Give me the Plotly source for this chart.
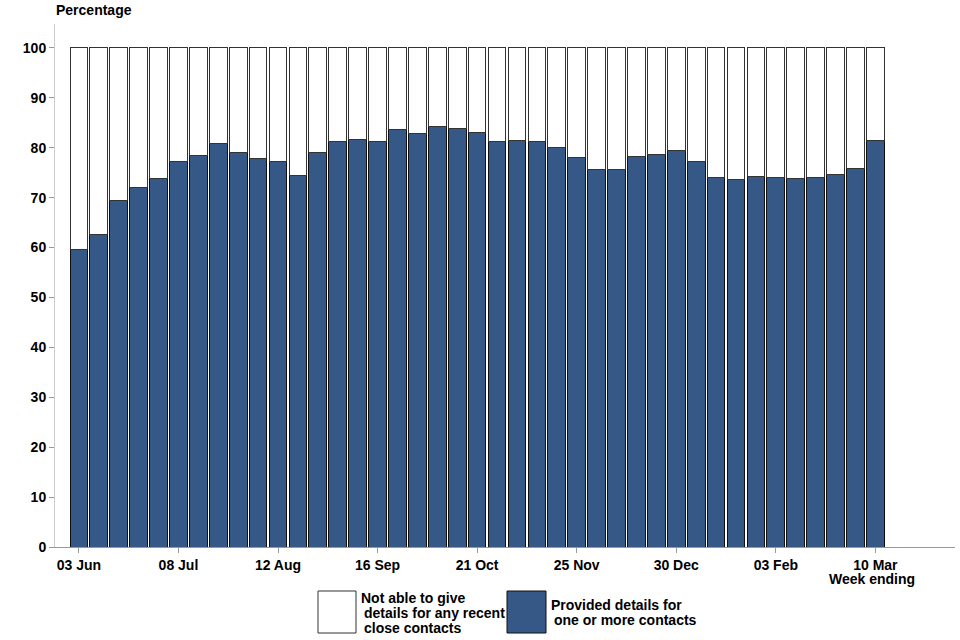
import plotly.graph_objects as go

weeks = ["03 Jun", "10 Jun", "17 Jun", "24 Jun", "01 Jul", "08 Jul", "15 Jul", "22 Jul", "29 Jul",
         "05 Aug", "12 Aug", "19 Aug", "26 Aug", "02 Sep", "09 Sep", "16 Sep", "23 Sep", "30 Sep",
         "07 Oct", "14 Oct", "21 Oct", "28 Oct", "04 Nov", "11 Nov", "18 Nov", "25 Nov", "02 Dec",
         "09 Dec", "16 Dec", "23 Dec", "30 Dec", "06 Jan", "13 Jan", "20 Jan", "27 Jan", "03 Feb",
         "10 Feb", "17 Feb", "24 Feb", "03 Mar", "10 Mar"]

provided = [59.6, 62.6, 69.4, 72.0, 73.9, 77.2, 78.4, 80.8, 79.0, 77.8, 77.2, 74.4, 79.0,
            81.3, 81.7, 81.3, 83.6, 82.8, 84.3, 83.9, 83.0, 81.3, 81.5, 81.3, 80.1, 78.0,
            75.7, 75.7, 78.2, 78.6, 79.5, 77.3, 74.1, 73.6, 74.3, 74.0, 73.9, 74.0, 74.6,
            75.9, 81.5]
not_able = [round(100 - v, 1) for v in provided]

tick_weeks = ["03 Jun", "08 Jul", "12 Aug", "16 Sep", "21 Oct", "25 Nov", "30 Dec", "03 Feb", "10 Mar"]
x_title = "Week ending"
y_title = "Percentage"

legend_not = ["Not able to give", "details for any recent", "close contacts"]
legend_prov = ["Provided details for", "one or more contacts"]

BLUE = "#355887"
FONT = "Liberation Sans"
FS = 14

L, T, B, R = 55, 24, 93, 5
PW, PH = 960 - L - R, 640 - T - B


def px(xp):
    return (xp - L) / PW


def py(yp):
    return (T + PH - yp) / PH


fig = go.Figure()
fig.add_trace(go.Bar(x=weeks, y=provided, name=" ".join(legend_prov), width=0.89,
                     marker=dict(color=BLUE, line=dict(color="#111111", width=1)),
                     showlegend=False))
fig.add_trace(go.Bar(x=weeks, y=not_able, name=" ".join(legend_not), width=0.89,
                     marker=dict(color="white", line=dict(color="#333333", width=1)),
                     showlegend=False))

# legend drawn manually
fig.add_shape(type="rect", xref="paper", yref="paper", x0=px(318), x1=px(356), y0=py(633), y1=py(591),
              fillcolor="white", line=dict(color="#333333", width=1))
fig.add_shape(type="rect", xref="paper", yref="paper", x0=px(507), x1=px(546), y0=py(633), y1=py(591),
              fillcolor=BLUE, line=dict(color="#111111", width=1))
for i, line in enumerate(legend_not):
    fig.add_annotation(text="<b>%s</b>" % line, xref="paper", yref="paper",
                       x=px(359 if i == 0 else 362), y=py(598 + 15 * i), xanchor="left", yanchor="middle",
                       showarrow=False, font=dict(family=FONT, size=FS, color="black"))
for i, line in enumerate(legend_prov):
    fig.add_annotation(text="<b>%s</b>" % line, xref="paper", yref="paper",
                       x=px(549 if i == 0 else 552), y=py(605 + 15 * i), xanchor="left", yanchor="middle",
                       showarrow=False, font=dict(family=FONT, size=FS, color="black"))

fig.add_annotation(text="<b>%s</b>" % y_title, xref="paper", yref="paper", x=px(54), y=py(10),
                   xanchor="left", yanchor="middle", showarrow=False,
                   font=dict(family=FONT, size=FS, color="black"))
fig.add_annotation(text="<b>%s</b>" % x_title, xref="paper", yref="paper", x=px(872), y=py(579),
                   xanchor="center", yanchor="middle", showarrow=False,
                   font=dict(family=FONT, size=FS, color="black"))

fig.update_layout(
    barmode="stack",
    width=960, height=640,
    margin=dict(l=L, r=R, t=T, b=B),
    plot_bgcolor="white", paper_bgcolor="white",
    font=dict(family=FONT, size=FS, color="black"),
    bargap=0.1,
    hovermode=False,
)
fig.update_xaxes(type="category", categoryorder="array", categoryarray=weeks,
                 range=[-1.2, 44], tickmode="array", tickvals=tick_weeks,
                 ticktext=["<b>%s</b>" % t for t in tick_weeks],
                 ticks="outside", ticklen=5, tickcolor="#999999", showline=True,
                 linecolor="#999999", linewidth=1, showgrid=False, zeroline=False,
                 tickangle=0, tickfont=dict(family=FONT, size=FS, color="black"))
fig.update_yaxes(range=[0, 104.8], tickmode="array", tickvals=list(range(0, 101, 10)),
                 ticktext=["<b>%d</b>" % v for v in range(0, 101, 10)],
                 ticks="outside", ticklen=5, tickcolor="#999999", showline=True,
                 linecolor="#cccccc", linewidth=1, showgrid=False, zeroline=False,
                 tickfont=dict(family=FONT, size=FS, color="black"))

fig.write_html("out.html", config={"staticPlot": True, "displayModeBar": False},
               post_script="document.body.style.margin='0';document.body.style.overflow='hidden';")
